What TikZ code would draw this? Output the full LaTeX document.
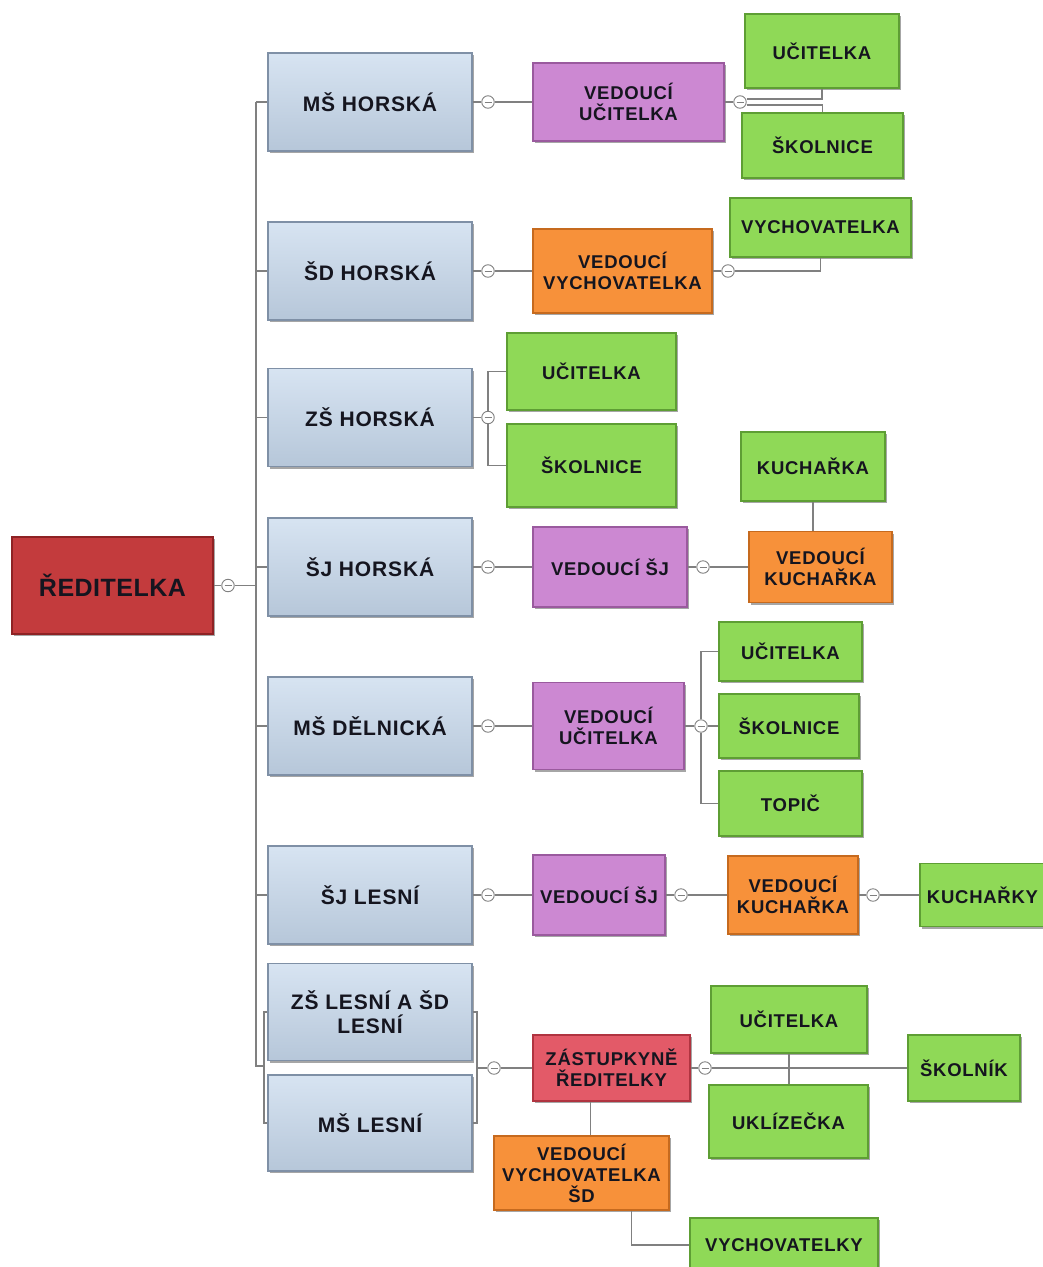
\documentclass[tikz,border=0pt]{standalone}
\usepackage{fontspec}
\setmainfont{Liberation Sans}
\newfontfamily\boxfont{Liberation Sans}[LetterSpace=4]
\newfontfamily\rootfont{Liberation Sans}[LetterSpace=2]
\usetikzlibrary{shadows}
\definecolor{bluefill}{HTML}{C6D8EC}
\definecolor{blueedge}{HTML}{7F90A6}
\definecolor{greenfill}{HTML}{8FD957}
\definecolor{greenedge}{HTML}{5E9E34}
\definecolor{purplefill}{HTML}{CC88D2}
\definecolor{purpleedge}{HTML}{9A5A9E}
\definecolor{orangefill}{HTML}{F7913A}
\definecolor{orangeedge}{HTML}{C66A1E}
\definecolor{rootfill}{HTML}{C33B3D}
\definecolor{rootedge}{HTML}{8E2224}
\definecolor{zasfill}{HTML}{E35A68}
\definecolor{zasedge}{HTML}{B03440}
\definecolor{txt}{HTML}{15151F}
\definecolor{linec}{HTML}{808080}
\tikzset{
  box/.style={rectangle, draw, line width=1.2pt, align=center, inner sep=2pt, text=txt,
    drop shadow={shadow xshift=2pt, shadow yshift=-2pt, opacity=0.35, fill=black}},
  bluebox/.style={box, top color=bluefill!70!white, bottom color=bluefill!92!black, draw=blueedge,
    font={\boxfont\bfseries\fontsize{21}{24}\selectfont}},
  smallbox/.style={box, font={\boxfont\bfseries\fontsize{18.5}{21}\selectfont}},
  greenbox/.style={smallbox, fill=greenfill, draw=greenedge},
  purplebox/.style={smallbox, fill=purplefill, draw=purpleedge},
  orangebox/.style={smallbox, fill=orangefill, draw=orangeedge},
  zasbox/.style={smallbox, fill=zasfill, draw=zasedge},
  rootbox/.style={box, fill=rootfill, draw=rootedge,
    font={\rootfont\bfseries\fontsize{25}{28}\selectfont}},
  coll/.style={circle, draw=linec, line width=0.9pt, fill=white, minimum size=12.5pt, inner sep=0pt,
    path picture={\draw[linec, line width=1pt] ([xshift=-3.5pt]path picture bounding box.center) -- ([xshift=3.5pt]path picture bounding box.center);}},
  conn/.style={draw=linec, line width=1.2pt},
}
\begin{document}
\begin{tikzpicture}[x=1pt,y=-1pt]
\useasboundingbox[fill=white] (0,0) rectangle (1043,1267);

% root
\node[rootbox, minimum width=201, minimum height=97] (root) at (112.5,585.5) {ŘEDITELKA};
\node[coll] (c0) at (228,585.5) {};
\coordinate (trtop) at (256,102);
\coordinate (trmid) at (256,585.5);
\coordinate (trbot) at (256,1066);
\coordinate (lb) at (264,1066);

% blue boxes
\node[bluebox, minimum width=204, minimum height=98] (msh) at (370,102) {MŠ HORSKÁ};
\node[bluebox, minimum width=204, minimum height=98] (sdh) at (370,271) {ŠD HORSKÁ};
\node[bluebox, minimum width=204, minimum height=98] (zsh) at (370,417.5) {ZŠ HORSKÁ};
\node[bluebox, minimum width=204, minimum height=98] (sjh) at (370,567) {ŠJ HORSKÁ};
\node[bluebox, minimum width=204, minimum height=98] (msd) at (370,726) {MŠ DĚLNICKÁ};
\node[bluebox, minimum width=204, minimum height=98] (sjl) at (370,895) {ŠJ LESNÍ};
\node[bluebox, minimum width=204, minimum height=97] (zsl) at (370,1012) {ZŠ LESNÍ A ŠD\\LESNÍ};
\node[bluebox, minimum width=204, minimum height=96] (msl) at (370,1123) {MŠ LESNÍ};

% trunk
\draw[conn] (root.east) -- (c0.west);
\draw[conn] (c0.east) -- (trmid);
\draw[conn] (trtop) -- (trbot) -- (lb);
\draw[conn] (msh.west -| trtop) -- (msh.west);
\draw[conn] (sdh.west -| trtop) -- (sdh.west);
\draw[conn] (zsh.west -| trtop) -- (zsh.west);
\draw[conn] (sjh.west -| trtop) -- (sjh.west);
\draw[conn] (msd.west -| trtop) -- (msd.west);
\draw[conn] (sjl.west -| trtop) -- (sjl.west);
\draw[conn] (zsl.west) -| (lb) |- (msl.west);

% row 1: MŠ HORSKÁ
\node[coll] (c1) at (488,102) {};
\node[purplebox, minimum width=191, minimum height=78] (vu1) at (628.5,102) {VEDOUCÍ\\UČITELKA};
\node[coll] (c1b) at (740,102) {};
\node[greenbox, minimum width=154, minimum height=74] (uc1) at (822,51) {UČITELKA};
\node[greenbox, minimum width=161, minimum height=65] (sk1) at (822.5,145.5) {ŠKOLNICE};
\draw[conn] (msh.east) -- (c1.west);
\draw[conn] (c1.east) -- (vu1.west);
\draw[conn] (vu1.east) -- (c1b.west);
\draw[conn] ([yshift=3pt]c1b.east) -| (uc1.south);
\draw[conn] ([yshift=-3pt]c1b.east) -| (sk1.north);

% row 2: ŠD HORSKÁ
\node[coll] (c2) at (488,271) {};
\node[orangebox, minimum width=179, minimum height=84] (vv2) at (622.5,271) {VEDOUCÍ\\VYCHOVATELKA};
\node[coll] (c2b) at (728,271) {};
\node[greenbox, minimum width=181, minimum height=59] (vy2) at (820.5,227.5) {VYCHOVATELKA};
\draw[conn] (sdh.east) -- (c2.west);
\draw[conn] (c2.east) -- (vv2.west);
\draw[conn] (vv2.east) -- (c2b.west);
\draw[conn] (c2b.east) -| (vy2.south);

% row 3: ZŠ HORSKÁ
\node[coll] (c3) at (488,417.5) {};
\node[greenbox, minimum width=169, minimum height=77] (uc3) at (591.5,371.5) {UČITELKA};
\node[greenbox, minimum width=169, minimum height=83] (sk3) at (591.5,465.5) {ŠKOLNICE};
\draw[conn] (zsh.east) -- (c3.west);
\draw[conn] (uc3.west) -| (c3.north);
\draw[conn] (sk3.west) -| (c3.south);

% row 4: ŠJ HORSKÁ
\node[coll] (c4) at (488,567) {};
\node[purplebox, minimum width=154, minimum height=80] (vsj4) at (610,567) {VEDOUCÍ ŠJ};
\node[coll] (c4b) at (703,567) {};
\node[orangebox, minimum width=143, minimum height=71] (vk4) at (820.5,567) {VEDOUCÍ\\KUCHAŘKA};
\node[greenbox, minimum width=144, minimum height=69] (ku4) at (813,466.5) {KUCHAŘKA};
\draw[conn] (sjh.east) -- (c4.west);
\draw[conn] (c4.east) -- (vsj4.west);
\draw[conn] (vsj4.east) -- (c4b.west);
\draw[conn] (c4b.east) -- (vk4.west);
\draw[conn] (ku4.south) -- (ku4.south |- vk4.north);

% row 5: MŠ DĚLNICKÁ
\node[coll] (c5) at (488,726) {};
\node[purplebox, minimum width=151, minimum height=87] (vu5) at (608.5,726) {VEDOUCÍ\\UČITELKA};
\node[coll] (c5b) at (701,726) {};
\node[greenbox, minimum width=143, minimum height=59] (uc5) at (790.5,651.5) {UČITELKA};
\node[greenbox, minimum width=140, minimum height=64] (sk5) at (789,726) {ŠKOLNICE};
\node[greenbox, minimum width=143, minimum height=65] (to5) at (790.5,803.5) {TOPIČ};
\draw[conn] (msd.east) -- (c5.west);
\draw[conn] (c5.east) -- (vu5.west);
\draw[conn] (vu5.east) -- (c5b.west);
\draw[conn] (uc5.west) -| (c5b.north);
\draw[conn] (to5.west) -| (c5b.south);
\draw[conn] (c5b.east) -- (sk5.west);

% row 6: ŠJ LESNÍ
\node[coll] (c6) at (488,895) {};
\node[purplebox, minimum width=132, minimum height=80] (vsj6) at (599,895) {VEDOUCÍ ŠJ};
\node[coll] (c6b) at (681,895) {};
\node[orangebox, minimum width=130, minimum height=78] (vk6) at (793,895) {VEDOUCÍ\\KUCHAŘKA};
\node[coll] (c6c) at (873,895) {};
\node[greenbox, minimum width=125, minimum height=63] (kuy6) at (982.5,895) {KUCHAŘKY};
\draw[conn] (sjl.east) -- (c6.west);
\draw[conn] (c6.east) -- (vsj6.west);
\draw[conn] (vsj6.east) -- (c6b.west);
\draw[conn] (c6b.east) -- (vk6.west);
\draw[conn] (vk6.east) -- (c6c.west);
\draw[conn] (c6c.east) -- (kuy6.west);

% bottom: ZŠ LESNÍ + MŠ LESNÍ
\coordinate (rb) at (477,1068);
\node[coll] (c7) at (494,1068) {};
\node[zasbox, minimum width=157, minimum height=66] (zas) at (611.5,1068) {ZÁSTUPKYNĚ\\ŘEDITELKY};
\node[coll] (c7b) at (705,1068) {};
\node[greenbox, minimum width=156, minimum height=67] (uc7) at (789,1019.5) {UČITELKA};
\node[greenbox, minimum width=159, minimum height=73] (ukl) at (788.5,1121.5) {UKLÍZEČKA};
\node[greenbox, minimum width=112, minimum height=66] (skn) at (964,1068) {ŠKOLNÍK};
\node[orangebox, minimum width=175, minimum height=74] (vvs) at (581.5,1173) {VEDOUCÍ\\VYCHOVATELKA\\ŠD};
\node[greenbox, minimum width=188, minimum height=54] (vys) at (784,1245) {VYCHOVATELKY};
\draw[conn] (zsl.east) -| (rb) |- (msl.east);
\draw[conn] (rb) -- (c7.west);
\draw[conn] (c7.east) -- (zas.west);
\draw[conn] (zas.east) -- (c7b.west);
\draw[conn] (c7b.east) -- (skn.west);
\draw[conn] (uc7.south) -- (uc7.south |- ukl.north);
\draw[conn] ([xshift=-21pt]zas.south) -- ([xshift=-21pt]zas.south |- vvs.north);
\draw[conn] ([xshift=50pt]vvs.south) |- (vys.west);
\end{tikzpicture}
\end{document}
